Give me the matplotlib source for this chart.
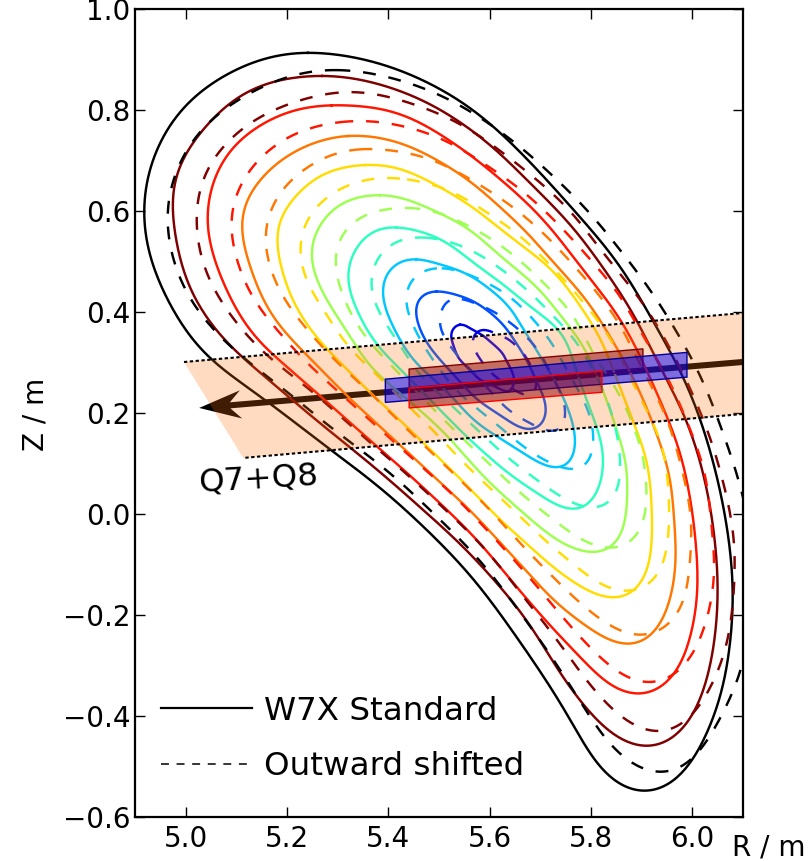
import numpy as np
import matplotlib
matplotlib.use("Agg")
import matplotlib.pyplot as plt
from matplotlib.lines import Line2D
from matplotlib.patches import Polygon

plt.rcParams['font.family'] = ['DejaVu Sans']

# --- flux surfaces, (R, Z) in metres ------------------------------------------
solid_black = [(5.241,.915),(5.162,.905),(5.097,.879),(5.032,.840),(4.978,.786),(4.939,.715),(4.919,.642),(4.917,.596),(4.925,.523),(4.945,.463),(4.972,.410),(5.012,.345),(5.057,.299),(5.156,.226),(5.281,.131),(5.383,.053),(5.449,-.006),(5.516,-.071),(5.581,-.144),(5.646,-.233),(5.709,-.325),(5.739,-.374),(5.779,-.441),(5.818,-.501),(5.864,-.540),(5.907,-.552),(5.950,-.540),(5.990,-.501),(6.030,-.434),(6.061,-.348),(6.079,-.224),(6.081,-.156),(6.075,-.065),(6.055,.053),(6.016,.192),(5.962,.315),(5.923,.380),(5.877,.463),(5.838,.517),(5.779,.588),(5.686,.691),(5.620,.756),(5.555,.810),(5.488,.849),(5.423,.879),(5.344,.903)]
solid_darkred = [(5.269,.867),(5.215,.865),(5.162,.853),(5.097,.824),(5.032,.760),(4.984,.687),(4.972,.608),(4.982,.537),(5.004,.449),(5.073,.345),(5.209,.226),(5.403,.067),(5.468,.008),(5.528,-.045),(5.601,-.121),(5.674,-.210),(5.739,-.315),(5.798,-.394),(5.852,-.441),(5.903,-.463),(5.950,-.453),(5.990,-.414),(6.022,-.354),(6.045,-.255),(6.051,-.156),(6.049,-.085),(6.030,.053),(5.990,.186),(5.937,.291),(5.891,.384),(5.842,.463),(5.765,.568),(5.719,.616),(5.660,.675),(5.607,.727),(5.555,.766),(5.488,.810),(5.423,.838),(5.328,.865)]
solid_red = [(5.288,.810),(5.229,.804),(5.162,.780),(5.091,.727),(5.057,.667),(5.041,.596),(5.047,.537),(5.071,.463),(5.097,.410),(5.140,.345),(5.269,.230),(5.453,.067),(5.516,.008),(5.581,-.057),(5.646,-.136),(5.739,-.243),(5.832,-.335),(5.891,-.360),(5.943,-.342),(5.982,-.289),(6.006,-.204),(6.012,-.125),(6.002,.002),(5.976,.127),(5.923,.259),(5.864,.378),(5.812,.449),(5.713,.576),(5.646,.642),(5.587,.691),(5.535,.731),(5.488,.760),(5.423,.794),(5.360,.806)]
solid_orange = [(5.320,.752),(5.229,.727),(5.162,.681),(5.117,.616),(5.109,.576),(5.123,.497),(5.162,.404),(5.209,.345),(5.320,.232),(5.498,.067),(5.567,.002),(5.634,-.071),(5.739,-.184),(5.824,-.243),(5.873,-.261),(5.917,-.245),(5.950,-.190),(5.966,-.125),(5.968,-.051),(5.956,.081),(5.911,.212),(5.858,.319),(5.792,.424),(5.670,.562),(5.620,.608),(5.555,.665),(5.488,.705),(5.423,.737)]
solid_yellow = [(5.354,.693),(5.269,.675),(5.215,.628),(5.182,.576),(5.180,.537),(5.196,.457),(5.221,.404),(5.261,.345),(5.364,.240),(5.429,.180),(5.545,.067),(5.615,-.006),(5.680,-.065),(5.739,-.117),(5.792,-.150),(5.844,-.168),(5.877,-.160),(5.911,-.117),(5.923,-.026),(5.913,.101),(5.871,.218),(5.818,.351),(5.771,.424),(5.725,.483),(5.620,.566),(5.555,.616),(5.488,.655),(5.423,.685)]
solid_green = [(5.383,.632),(5.318,.622),(5.285,.598),(5.249,.543),(5.251,.483),(5.281,.418),(5.364,.291),(5.502,.170),(5.595,.067),(5.666,.002),(5.739,-.057),(5.812,-.079),(5.852,-.057),(5.871,.002),(5.871,.101),(5.832,.226),(5.785,.335),(5.700,.444),(5.555,.568),(5.488,.602),(5.423,.628)]
solid_teal = [(5.417,.570),(5.358,.556),(5.318,.489),(5.330,.418),(5.373,.339),(5.502,.206),(5.567,.141),(5.646,.073),(5.725,.022),(5.773,.006),(5.804,.028),(5.824,.081),(5.822,.141),(5.792,.226),(5.745,.358),(5.634,.449),(5.502,.547)]
solid_cyan = [(5.456,.507),(5.409,.493),(5.387,.450),(5.399,.390),(5.443,.311),(5.532,.226),(5.567,.186),(5.646,.133),(5.700,.101),(5.743,.089),(5.765,.113),(5.769,.160),(5.749,.226),(5.705,.305),(5.634,.418),(5.557,.477)]
solid_blue = [(5.496,.443),(5.462,.430),(5.453,.404),(5.468,.350),(5.502,.305),(5.575,.226),(5.654,.174),(5.690,.166),(5.711,.192),(5.709,.226),(5.674,.305),(5.626,.378),(5.567,.424)]
solid_navy = [(5.541,.378),(5.522,.358),(5.536,.311),(5.581,.265),(5.640,.240),(5.650,.269),(5.626,.319),(5.587,.354)]

dash_black = [(5.300,.879),(5.249,.877),(5.196,.865),(5.111,.826),(5.057,.786),(5.012,.741),(4.972,.655),(4.962,.596),(4.968,.537),(4.982,.483),(5.004,.430),(5.067,.351),(5.111,.311),(5.200,.242),(5.285,.172),(5.377,.103),(5.456,.034),(5.498,-.008),(5.537,-.046),(5.575,-.085),(5.611,-.129),(5.644,-.174),(5.676,-.216),(5.709,-.263),(5.739,-.309),(5.769,-.354),(5.798,-.402),(5.832,-.447),(5.871,-.487),(5.921,-.511),(5.970,-.511),(6.016,-.467),(6.049,-.414),(6.075,-.368),(6.095,-.315),(6.114,-.229),(6.122,-.111),(6.111,-.012),(6.091,.073),(6.051,.190),(6.010,.289),(5.982,.339),(5.952,.388),(5.923,.438),(5.822,.568),(5.779,.618),(5.745,.649),(5.705,.687),(5.666,.725),(5.620,.756),(5.575,.790),(5.528,.816),(5.476,.842),(5.423,.857),(5.373,.873)]
dash_darkred = [(5.300,.836),(5.249,.826),(5.190,.806),(5.142,.786),(5.097,.750),(5.057,.707),(5.034,.667),(5.022,.608),(5.022,.548),(5.034,.497),(5.053,.449),(5.077,.410),(5.117,.358),(5.152,.321),(5.200,.281),(5.239,.252),(5.324,.176),(5.423,.091),(5.535,-.012),(5.611,-.091),(5.644,-.135),(5.676,-.176),(5.711,-.220),(5.739,-.256),(5.775,-.309),(5.812,-.354),(5.852,-.394),(5.897,-.424),(5.950,-.434),(5.996,-.402),(6.030,-.354),(6.055,-.303),(6.071,-.249),(6.081,-.176),(6.085,-.091),(6.081,-.031),(6.071,.022),(6.059,.073),(6.035,.156),(6.012,.210),(5.992,.259),(5.962,.319),(5.937,.360),(5.911,.408),(5.804,.543),(5.773,.586),(5.737,.622),(5.696,.659),(5.654,.695),(5.611,.725),(5.561,.762),(5.516,.786),(5.462,.806),(5.413,.824),(5.354,.834)]
dash_red = [(5.320,.778),(5.269,.770),(5.215,.754),(5.170,.725),(5.130,.687),(5.101,.638),(5.089,.582),(5.093,.529),(5.111,.477),(5.130,.428),(5.200,.341),(5.239,.299),(5.383,.168),(5.528,.038),(5.567,-.002),(5.640,-.081),(5.713,-.166),(5.749,-.210),(5.784,-.249),(5.824,-.289),(5.871,-.323),(5.923,-.337),(5.972,-.313),(6.006,-.269),(6.026,-.220),(6.039,-.164),(6.045,-.105),(6.041,-.051),(6.030,.061),(6.010,.133),(5.990,.182),(5.970,.232),(5.947,.279),(5.887,.380),(5.862,.428),(5.788,.517),(5.753,.556),(5.713,.596),(5.674,.632),(5.630,.667),(5.585,.695),(5.538,.727),(5.486,.751),(5.437,.766),(5.373,.778)]
dash_orange = [(5.348,.723),(5.294,.715),(5.241,.687),(5.200,.655),(5.170,.608),(5.156,.556),(5.162,.503),(5.182,.449),(5.205,.408),(5.279,.319),(5.364,.240),(5.443,.162),(5.522,.087),(5.601,.008),(5.676,-.075),(5.755,-.154),(5.794,-.190),(5.838,-.220),(5.891,-.243),(5.943,-.228),(5.976,-.190),(5.992,-.137),(6.000,-.026),(5.992,.034),(5.976,.107),(5.956,.172),(5.941,.212),(5.913,.265),(5.864,.364),(5.838,.404),(5.804,.449),(5.769,.489),(5.733,.529),(5.694,.568),(5.650,.604),(5.607,.636),(5.557,.665),(5.508,.693),(5.456,.711),(5.399,.721)]
dash_yellow = [(5.423,.665),(5.373,.665),(5.318,.651),(5.271,.622),(5.235,.576),(5.225,.523),(5.235,.469),(5.259,.424),(5.320,.331),(5.364,.289),(5.482,.172),(5.557,.093),(5.636,.018),(5.719,-.061),(5.804,-.130),(5.858,-.154),(5.911,-.144),(5.941,-.105),(5.952,-.051),(5.956,.008),(5.947,.113),(5.927,.172),(5.897,.232),(5.844,.339),(5.818,.378),(5.784,.420),(5.749,.463),(5.709,.503),(5.670,.543),(5.626,.576),(5.581,.606),(5.532,.636),(5.478,.655)]
dash_green = [(5.458,.606),(5.393,.604),(5.340,.586),(5.304,.547),(5.294,.493),(5.308,.438),(5.330,.388),(5.364,.339),(5.399,.301),(5.516,.180),(5.595,.103),(5.676,.028),(5.765,-.041),(5.814,-.065),(5.868,-.065),(5.901,-.026),(5.911,.034),(5.907,.087),(5.897,.141),(5.858,.236),(5.812,.305),(5.763,.398),(5.725,.438),(5.686,.479),(5.646,.513),(5.601,.547),(5.547,.576),(5.502,.596)]
dash_teal = [(5.478,.548),(5.419,.543),(5.379,.509),(5.364,.457),(5.379,.404),(5.407,.358),(5.462,.275),(5.555,.186),(5.636,.111),(5.725,.044),(5.773,.018),(5.824,.012),(5.854,.048),(5.858,.113),(5.852,.160),(5.828,.240),(5.779,.331),(5.743,.374),(5.705,.414),(5.664,.453),(5.620,.487),(5.575,.517),(5.522,.539)]
dash_cyan = [(5.496,.489),(5.447,.469),(5.433,.418),(5.453,.364),(5.478,.319),(5.532,.246),(5.591,.196),(5.680,.123),(5.729,.097),(5.773,.087),(5.792,.097),(5.806,.141),(5.798,.200),(5.759,.275),(5.719,.345),(5.684,.388),(5.644,.428),(5.597,.457),(5.547,.479)]
dash_blue = [(5.518,.428),(5.498,.378),(5.526,.325),(5.587,.259),(5.636,.206),(5.686,.176),(5.729,.162),(5.745,.172),(5.749,.220),(5.723,.275),(5.696,.325),(5.660,.364),(5.614,.398),(5.567,.420)]
dash_navy = [(5.581,.366),(5.565,.345),(5.575,.315),(5.601,.281),(5.640,.250),(5.674,.234),(5.692,.246),(5.690,.275),(5.670,.315),(5.640,.345),(5.607,.360)]

solid_surfaces = [solid_navy, solid_blue, solid_cyan, solid_teal, solid_green,
                  solid_yellow, solid_orange, solid_red, solid_darkred, solid_black]
dashed_surfaces = [dash_navy, dash_blue, dash_cyan, dash_teal, dash_green,
                   dash_yellow, dash_orange, dash_red, dash_darkred, dash_black]
surface_colors = ['#0000e6', '#0050ff', '#00c8ff', '#2cffc0', '#9dff50',
                  '#ffdd00', '#ff7700', '#ff1500', '#7f0000', '#000000']

# --- diagnostics --------------------------------------------------------------
band_R = [4.996, 6.10, 6.10, 5.113]
band_Z = [0.301, 0.398, 0.198, 0.111]
blue_box_R = [5.394, 5.990, 5.990, 5.394]
blue_box_Z = [0.267, 0.320, 0.271, 0.221]
upper_box_R = [5.441, 5.903, 5.903, 5.441]
upper_box_Z = [0.287, 0.327, 0.283, 0.245]
lower_box_R = [5.441, 5.822, 5.822, 5.441]
lower_box_Z = [0.249, 0.283, 0.241, 0.210]
beam_R = [6.10, 5.026]
beam_Z = [0.301, 0.210]

x_ticks = [5.0, 5.2, 5.4, 5.6, 5.8, 6.0]
y_ticks = [-0.6, -0.4, -0.2, 0.0, 0.2, 0.4, 0.6, 0.8, 1.0]
legend_labels = ['W7X Standard', 'Outward shifted']


def smooth_closed(points, harmonics, n=720):
    """Low-pass a closed outline through the read points to take out reading jitter."""
    p = np.asarray(points, float)
    closed = np.vstack([p, p[:1]])
    s = np.r_[0, np.cumsum(np.linalg.norm(np.diff(closed, axis=0), axis=1))]
    u = np.linspace(0, s[-1], n, endpoint=False)
    z = np.interp(u, s, closed[:, 0]) + 1j * np.interp(u, s, closed[:, 1])
    f = np.fft.fft(z)
    k = np.abs(np.fft.fftfreq(n, 1.0 / n))
    f *= np.exp(-(k / harmonics) ** 6)
    c = np.fft.ifft(f)
    c = np.r_[c, c[:1]]
    return c.real, c.imag


W, H = 808, 861
fig = plt.figure(figsize=(W / 100, H / 100), dpi=100, facecolor='white')
ax = fig.add_axes([135.4 / W, 1 - 817 / H, (742.6 - 135.4) / W, (817 - 9) / H])
ax.set_xlim(4.9, 6.1)
ax.set_ylim(-0.6, 1.0)

LW = 1.75
DASH = (0, (5.3, 5.3))
# The beam sits under the translucent band: black outside, brown inside.
ax.arrow(beam_R[0], beam_Z[0], beam_R[1] - beam_R[0], beam_Z[1] - beam_Z[0],
         width=0.012, head_width=0.056, head_length=0.083, overhang=0.26,
         length_includes_head=True, fc='k', ec='k', lw=0, zorder=1)

surface_harmonics = [8, 9, 11, 13, 15, 17, 18, 19, 19, 19]
for pts, col, nh in zip(solid_surfaces, surface_colors, surface_harmonics):
    x, y = smooth_closed(pts, nh)
    ax.plot(x, y, color=col, lw=LW, zorder=2)
for pts, col, nh in zip(dashed_surfaces, surface_colors, surface_harmonics):
    x, y = smooth_closed(pts, nh)
    ax.plot(x, y, color=col, lw=LW, ls=DASH, zorder=2)

ax.add_patch(Polygon(np.column_stack([band_R, band_Z]), closed=True,
                     fc=(1.0, 0.44, 0.05, 0.25), ec='none', zorder=3))
ax.plot(band_R[:2], band_Z[:2], color='k', lw=1.5, ls=(0, (1.6, 1.2)), zorder=6)
ax.plot(band_R[2:], band_Z[2:], color='k', lw=1.5, ls=(0, (1.6, 1.2)), zorder=6)

ax.add_patch(Polygon(np.column_stack([upper_box_R, upper_box_Z]), closed=True,
                     fc=(0.55, 0, 0, 0.5), ec=(0.5, 0, 0), lw=1, zorder=4))
ax.add_patch(Polygon(np.column_stack([lower_box_R, lower_box_Z]), closed=True,
                     fc=(0.55, 0, 0, 0.5), ec=(1, 0, 0), lw=1, zorder=4.2))
ax.add_patch(Polygon(np.column_stack([blue_box_R, blue_box_Z]), closed=True,
                     fc=(0, 0, 1, 0.5), ec=(0, 0, 0.6), lw=1, zorder=4.1))

ax.set_xticks(x_ticks)
ax.set_yticks(y_ticks)
ax.tick_params(axis='both', which='major', direction='in', top=True, right=True,
               length=7, width=1, labelsize=20)
ax.tick_params(axis='x', pad=6)
ax.tick_params(axis='y', pad=3.5)
for s in ax.spines.values():
    s.set_linewidth(1.6)
    s.set_zorder(10)

ax.text(5.026, 0.044, 'Q7+Q8', fontsize=23.4, rotation=3.5, rotation_mode='anchor',
        ha='left', va='baseline', zorder=7)

fig.text(732 / W, 1 - 855 / H, 'R / m', fontsize=20, ha='left', va='baseline')
fig.text(36 / W, 1 - 414 / H, 'Z / m', fontsize=20, rotation=90, ha='center', va='center')

handles = [Line2D([], [], color='k', lw=1.6),
           Line2D([], [], color='k', lw=1.1, ls=(0, (5.2, 5.0)))]
ax.legend(handles, legend_labels, loc='lower left', frameon=False, fontsize=23.4,
          bbox_to_anchor=(161 / W, 1 - 782 / H), bbox_transform=fig.transFigure,
          borderaxespad=0, borderpad=0, handlelength=2.8, handletextpad=0.38,
          labelspacing=0.75)

fig.savefig('out.png', dpi=100)
